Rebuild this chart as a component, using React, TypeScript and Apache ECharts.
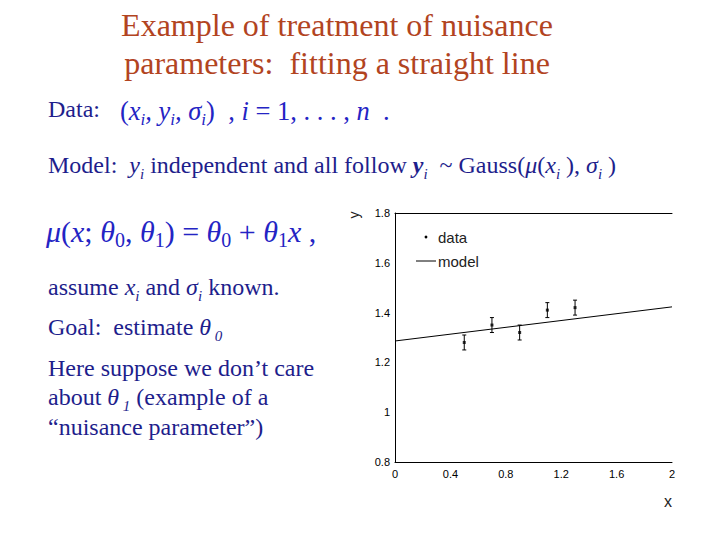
import React, { useEffect, useRef } from "react";
import * as echarts from "echarts";

// ---- data ----
const xTicks = [0, 0.4, 0.8, 1.2, 1.6, 2];
const yTicks = [0.8, 1, 1.2, 1.4, 1.6, 1.8];
const dataX = [0.5, 0.7, 0.9, 1.1, 1.3];
const dataY = [1.28, 1.35, 1.32, 1.41, 1.42];
const dataSigma = [0.03, 0.03, 0.03, 0.03, 0.03];
const modelX = [0, 2];
const modelY = [1.286, 1.423];
const legendLabels = ["data", "model"];

const SERIF = "'Liberation Serif', 'Times New Roman', serif";
const SANS = "'Liberation Sans', Arial, sans-serif";
const NAVY = "#1e1e8c";
const MATH = "#2424c4";
const TITLE = "#b2441f";

function richStyles(color: string, F: number, sub: number, pad: number) {
  const lh = Math.round(F * 1.25);
  return {
    n: { fontSize: F, fontFamily: SERIF, fill: color, verticalAlign: "top", lineHeight: lh },
    i: { fontSize: F, fontFamily: SERIF, fontStyle: "italic", fill: color, verticalAlign: "top", lineHeight: lh },
    b: { fontSize: F, fontFamily: SERIF, fontStyle: "italic", fontWeight: "bold", fill: color, verticalAlign: "top", lineHeight: lh },
    s: { fontSize: sub, fontFamily: SERIF, fontStyle: "italic", fill: color, verticalAlign: "top", lineHeight: Math.round(sub * 1.2), padding: [pad, 0, 0, 0] },
    su: { fontSize: sub, fontFamily: SERIF, fill: color, verticalAlign: "top", lineHeight: Math.round(sub * 1.2), padding: [pad, 0, 0, 0] },
  };
}

function txt(x: number, y: number, text: string, rich: any, align = "left") {
  return {
    type: "text",
    x,
    y,
    silent: true,
    style: { text, rich, align, verticalAlign: "middle" },
  };
}

export default function App() {
  const ref = useRef<HTMLDivElement>(null);
  useEffect(() => {
    if (!ref.current) return;
    const chart = echarts.init(ref.current, undefined, { renderer: "svg" });
    const errData = dataX.map((x, i) => [x, dataY[i] - dataSigma[i], dataY[i] + dataSigma[i]]);
    const pts = dataX.map((x, i) => [x, dataY[i]]);
    const model = modelX.map((x, i) => [x, modelY[i]]);

    const plain = richStyles(NAVY, 24, 15, 13);
    const math = richStyles(MATH, 26.5, 17, 13);
    const math2 = richStyles(MATH, 30, 20, 14);

    const graphic: any[] = [
      {
        type: "text", x: 337, y: 25, silent: true,
        style: { text: "Example of treatment of nuisance", fontSize: 32, fontFamily: SERIF, fill: TITLE, align: "center", verticalAlign: "middle" },
      },
      {
        type: "text", x: 337, y: 63, silent: true,
        style: { text: "parameters:  fitting a straight line", fontSize: 32, fontFamily: SERIF, fill: TITLE, align: "center", verticalAlign: "middle" },
      },
      txt(48, 112, "{n|Data:}", plain),
      txt(120, 114, "{n|(}{i|x}{s|i}{i|, y}{s|i}{i|, σ}{s|i}{n|)  , }{i|i}{n| = 1, . . . , }{i|n}{n|  .}", math),
      txt(48, 168, "{n|Model:  }{i|y}{s|i}{n| independent and all follow }{b|y}{s|i}{n|  ~ Gauss(}{i|μ}{n|(}{i|x}{s|i}{n| ), }{i|σ}{s|i}{n| )}", plain),
      txt(46, 235, "{i|μ}{n|(}{i|x}{n|; }{i|θ}{su|0}{n|, }{i|θ}{su|1}{n|) = }{i|θ}{su|0}{n| + }{i|θ}{su|1}{i|x}{n| ,}", math2),
      txt(48, 290, "{n|assume }{i|x}{s|i}{n| and }{i|σ}{s|i}{n| known.}", plain),
      txt(48, 330, "{n|Goal:  estimate }{i|θ}{s| 0}", plain),
      txt(48, 371, "{n|Here suppose we don’t care}", plain),
      txt(48, 400, "{n|about }{i|θ}{s| 1}{n| (example of a}", plain),
      txt(48, 430, "{n|“nuisance parameter”)}", plain),
      // legend
      { type: "circle", silent: true, shape: { cx: 426, cy: 237, r: 1.4 }, style: { fill: "#000" } },
      { type: "line", silent: true, shape: { x1: 416, y1: 261, x2: 436, y2: 261 }, style: { stroke: "#000", lineWidth: 1 } },
      { type: "text", x: 438, y: 237, silent: true, style: { text: legendLabels[0], fontSize: 15, fontFamily: SANS, fill: "#222", verticalAlign: "middle" } },
      { type: "text", x: 438, y: 261, silent: true, style: { text: legendLabels[1], fontSize: 15, fontFamily: SANS, fill: "#222", verticalAlign: "middle" } },
      // axis names
      { type: "text", x: 668, y: 501, silent: true, style: { text: "x", fontSize: 16, fontFamily: SANS, fill: "#222", align: "center", verticalAlign: "middle" } },
      { type: "text", x: 354, y: 215, rotation: Math.PI / 2, silent: true, style: { text: "y", fontSize: 14, fontFamily: SANS, fill: "#222", align: "center", verticalAlign: "middle" } },
    ];

    const axisLabel = { fontSize: 11, fontFamily: SANS, color: "#000" };

    chart.setOption({
      animation: false,
      backgroundColor: "#fff",
      grid: { left: 395, right: 48, top: 213, bottom: 78 },
      xAxis: [
        {
          type: "value", min: xTicks[0], max: xTicks[xTicks.length - 1], interval: xTicks[1] - xTicks[0],
          axisLine: { show: true, lineStyle: { color: "#000", width: 1 } },
          axisTick: { show: false }, splitLine: { show: false },
          axisLabel: { ...axisLabel, margin: 6 },
        },
        {
          type: "value", position: "top", min: xTicks[0], max: xTicks[xTicks.length - 1],
          axisLine: { show: true, onZero: false, lineStyle: { color: "#000", width: 1 } },
          axisTick: { show: false }, splitLine: { show: false }, axisLabel: { show: false },
        },
      ],
      yAxis: {
        type: "value", min: yTicks[0], max: yTicks[yTicks.length - 1], interval: 0.2,
        axisLine: { show: true, lineStyle: { color: "#000", width: 1 } },
        axisTick: { show: false }, splitLine: { show: false },
        axisLabel: { ...axisLabel, margin: 5, formatter: (v: number) => String(Math.round(v * 10) / 10) },
      },
      series: [
        {
          type: "line", data: model, symbol: "none", xAxisIndex: 0,
          lineStyle: { color: "#000", width: 1 },
        },
        {
          type: "custom", xAxisIndex: 0, data: errData, encode: { x: 0, y: [1, 2] },
          renderItem: (params: any, api: any) => {
            const x = api.value(0);
            const lo = api.coord([x, api.value(1)]);
            const hi = api.coord([x, api.value(2)]);
            const c = 2;
            const st = { stroke: "#000", lineWidth: 1 };
            return {
              type: "group",
              children: [
                { type: "line", shape: { x1: lo[0], y1: lo[1], x2: hi[0], y2: hi[1] }, style: st },
                { type: "line", shape: { x1: lo[0] - c, y1: lo[1], x2: lo[0] + c, y2: lo[1] }, style: st },
                { type: "line", shape: { x1: hi[0] - c, y1: hi[1], x2: hi[0] + c, y2: hi[1] }, style: st },
              ],
            };
          },
        },
        {
          type: "scatter", data: pts, xAxisIndex: 0, symbol: "rect", symbolSize: 3,
          itemStyle: { color: "#000" },
        },
      ],
      graphic,
    });
    return () => chart.dispose();
  }, []);
  return (
    <div
      ref={ref}
      style={{ position: "fixed", left: 0, top: 0, width: 720, height: 540, background: "#fff" }}
    />
  );
}
